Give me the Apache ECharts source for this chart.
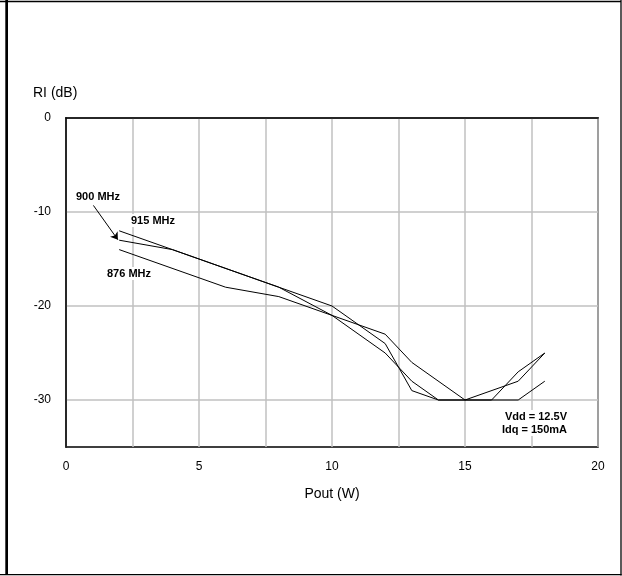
<!DOCTYPE html>
<html>
<head>
<meta charset="utf-8">
<script src="https://cdn.jsdelivr.net/npm/echarts@6/dist/echarts.min.js"></script>
<style>
  html, body { margin: 0; padding: 0; background: #fff; }
  #chart { width: 622px; height: 576px; }
</style>
</head>
<body>
<div id="chart"></div>
<script>
// ---- data ----
const pout876 = [2, 6, 8, 10, 12, 13, 15, 17, 18];
const ri876   = [-14, -18, -19, -21, -23, -26, -30, -28, -25];
const pout900 = [2, 4, 8, 10, 12, 13, 14, 16, 17, 18];
const ri900   = [-13, -14, -18, -20, -24, -29, -30, -30, -27, -25];
const pout915 = [2, 4, 8, 10, 12, 13, 14, 17, 18];
const ri915   = [-12, -14, -18, -21, -25, -28, -30, -30, -28];
const seriesNames = ['876 MHz', '900 MHz', '915 MHz'];
const xTicks = [0, 5, 10, 15, 20];
const yTicks = [0, -10, -20, -30];
const xName = 'Pout (W)';
const yName = 'RI (dB)';
const noteLines = ['Vdd = 12.5V', 'Idq = 150mA'];
// arrow from the "900 MHz" label to its curve (data coordinates)
const arrowFrom = [1.03, -9.3];
const arrowTo = [1.95, -12.95];

const pairs = (xs, ys) => xs.map((x, i) => [x, ys[i]]);

const chart = echarts.init(document.getElementById('chart'), null, { renderer: 'canvas' });
const font = 'Liberation Sans, Arial, sans-serif';
const gridColor = '#c0c0c0';

const lineStyle = { color: '#000', width: 1 };
const boxed = { fill: '#000', backgroundColor: '#fff', padding: [1, 1, 1, 1] };

chart.setOption({
  animation: false,
  backgroundColor: '#fff',
  grid: { left: 66, top: 118, right: 24, bottom: 129, show: true, borderColor: '#000', borderWidth: 1.5, backgroundColor: 'transparent' },
  xAxis: {
    type: 'value', min: 0, max: 20, interval: 2.5,
    axisLine: { show: true, lineStyle: { color: '#000', width: 1.5 } },
    axisTick: { show: false },
    axisLabel: {
      margin: 14, color: '#000', fontFamily: font, fontSize: 12,
      formatter: v => (xTicks.indexOf(v) >= 0 ? String(v) : '')
    },
    splitLine: { show: true, lineStyle: { color: gridColor, width: 1.5 } },
    name: xName, nameLocation: 'middle', nameGap: 40,
    nameTextStyle: { color: '#000', fontFamily: font, fontSize: 14 }
  },
  yAxis: {
    type: 'value', min: -35, max: 0, interval: 5,
    axisLine: { show: true, lineStyle: { color: '#000', width: 1.5 } },
    axisTick: { show: false },
    axisLabel: {
      margin: 15, color: '#000', fontFamily: font, fontSize: 12,
      formatter: v => (yTicks.indexOf(v) >= 0 ? String(v) : '')
    },
    splitLine: { show: true, lineStyle: { color: ['transparent', gridColor], width: 1.5 } }
  },
  series: [
    { name: seriesNames[0], type: 'line', data: pairs(pout876, ri876), symbol: 'none', lineStyle, itemStyle: { color: '#000' } },
    { name: seriesNames[1], type: 'line', data: pairs(pout900, ri900), symbol: 'none', lineStyle, itemStyle: { color: '#000' },
      markLine: {
        silent: true, symbol: ['none', 'arrow'], symbolSize: 7,
        label: { show: false },
        lineStyle: { color: '#000', width: 1, type: 'solid' },
        itemStyle: { color: '#000' },
        data: [[{ coord: arrowFrom }, { coord: arrowTo }]]
      }
    },
    { name: seriesNames[2], type: 'line', data: pairs(pout915, ri915), symbol: 'none', lineStyle, itemStyle: { color: '#000' } }
  ],
  graphic: [
    // outer frame
    { type: 'line', z: 100, shape: { x1: 0, y1: 1.5, x2: 621, y2: 1.5 }, style: { stroke: '#000', lineWidth: 1.3 } },
    { type: 'rect', z: 100, shape: { x: 5.3, y: 0, width: 2.7, height: 575 }, style: { fill: '#000' } },
    { type: 'line', z: 100, shape: { x1: 621, y1: 0, x2: 621, y2: 575.5 }, style: { stroke: '#000', lineWidth: 1.3 } },
    { type: 'line', z: 100, shape: { x1: 0, y1: 574.6, x2: 621.6, y2: 574.6 }, style: { stroke: '#000', lineWidth: 1.3 } },
    // axis title
    { type: 'text', z: 100, left: 33, top: 86, style: { text: yName, fill: '#000', font: '14px ' + font } },
    // curve labels
    { type: 'text', z: 100, left: 75, top: 190, style: Object.assign({ text: seriesNames[1], font: 'bold 11px ' + font }, boxed) },
    { type: 'text', z: 100, left: 130, top: 214, style: Object.assign({ text: seriesNames[2], font: 'bold 11px ' + font }, boxed) },
    { type: 'text', z: 100, left: 106, top: 267, style: Object.assign({ text: seriesNames[0], font: 'bold 11px ' + font }, boxed) },
    // conditions
    { type: 'text', z: 100, right: 54, top: 410, style: Object.assign({ text: noteLines[0], font: 'bold 11px ' + font }, boxed) },
    { type: 'text', z: 100, right: 54, top: 423, style: Object.assign({ text: noteLines[1], font: 'bold 11px ' + font }, boxed) }
  ]
});
</script>
</body>
</html>
